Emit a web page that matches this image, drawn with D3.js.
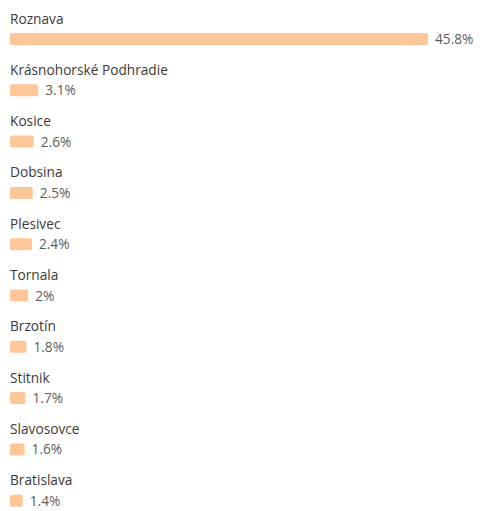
<!DOCTYPE html>
<html><head><meta charset="utf-8">
<script src="https://cdn.jsdelivr.net/npm/d3@7"></script>
<style>body{margin:0;background:#fff;} text{font-family:"Open Sans",sans-serif;}</style>
</head><body><div id="chart"></div>
<script>
const categories = ["Roznava","Krásnohorské Podhradie","Kosice","Dobsina","Plesivec","Tornala","Brzotín","Stitnik","Slavosovce","Bratislava"];
const values = [45.8,3.1,2.6,2.5,2.4,2,1.8,1.7,1.6,1.4];
const valueLabels = ["45.8%","3.1%","2.6%","2.5%","2.4%","2%","1.8%","1.7%","1.6%","1.4%"];

const W=480,H=511;
const svg=d3.select("#chart").append("svg").attr("width",W).attr("height",H);
const x=d3.scaleLinear().domain([0,45.8]).range([10,428]);
const y=d3.scaleBand().domain(categories).range([13.5,526.5]).paddingInner(0);
const barH=12;
const g=svg.selectAll("g.row").data(categories).enter().append("g").attr("class","row")
  .attr("transform",d=>`translate(0,${y(d)})`);
g.append("text").attr("x",10).attr("y",10).attr("fill","#3b3a39").attr("font-size","13.7px").text(d=>d);
g.append("rect").attr("x",x(0)).attr("y",25.5-barH/2).attr("height",barH)
  .attr("width",(d,i)=>x(values[i])-x(0)).attr("rx",2).attr("fill","#ffc697");
g.append("text").attr("x",(d,i)=>x(values[i])+7).attr("y",25.5+5)
  .attr("fill","#605e5c").attr("font-size","13.7px").text((d,i)=>valueLabels[i]);
</script></body></html>
